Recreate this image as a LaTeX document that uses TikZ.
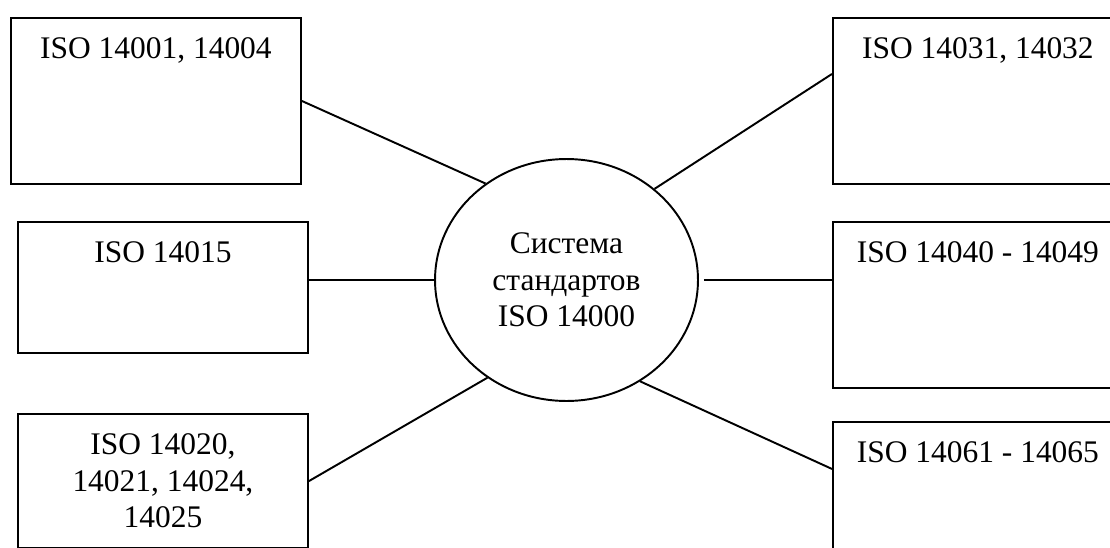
\documentclass[tikz,border=0pt]{standalone}
\usepackage{fontspec}
\setmainfont{Liberation Serif}
\usepackage{tikz}
\usetikzlibrary{shapes.geometric, calc}
\tikzset{
    my-box/.style={
        draw, line width=1.1pt, anchor=north west, align=center,
        minimum width=5.8cm, inner xsep=0pt, inner ysep=0.4cm, text height=0.42cm
    },
    my-core/.style={
        ellipse, draw, line width=1.1pt, align=center, inner sep=0pt,
        minimum width=5.26cm, minimum height=4.84cm
    },
    my-wire/.style={
        line width=1.1pt
    },
}

\begin{document}
\begin{tikzpicture}[x=0.02cm, y=-0.02cm, font=\fontsize{17.9pt}{20.8pt}\selectfont]

        \useasboundingbox (0,0) rectangle (1110,548);
        \clip (0,0) rectangle (1110,548);

        % CENTRE
        \node[my-core] (SYS) at (566.5,280) {Система\\стандартов\\ISO 14000};

        % LEFT BOXES
        \node[my-box, text depth=2.1cm]  (ISO1) at (10,17)  {ISO 14001, 14004};
        \node[my-box, text depth=1.4cm]  (ISO2) at (17,221) {ISO 14015};
        \node[my-box, text height=, minimum height=2.6cm] (ISO3) at (17,413) {ISO 14020,\\14021, 14024,\\14025};

        % RIGHT BOXES
        \node[my-box, text depth=2.1cm]  (ISO4) at (832,17)  {ISO 14031, 14032};
        \node[my-box, text depth=2.1cm]  (ISO5) at (832,221) {ISO 14040 - 14049};
        \node[my-box, text depth=2.1cm]  (ISO6) at (832,421) {ISO 14061 - 14065};

        % LEFT CONNECTIONS
        \draw[my-wire] (ISO1.east) -- (SYS.130);
        \draw[my-wire] (ISO2.east |- SYS.west) -- (SYS.west);
        \draw[my-wire] (ISO3.east) -- (SYS.231);

        % RIGHT CONNECTIONS
        \draw[my-wire] (SYS.46) -- ([yshift=0.54cm]ISO4.west);
        \draw[my-wire] ([xshift=0.1cm]SYS.east) -- (SYS.east -| ISO5.west);
        \draw[my-wire] (SYS.306) -- ([yshift=0.72cm]ISO6.west);

\end{tikzpicture}
\end{document}
